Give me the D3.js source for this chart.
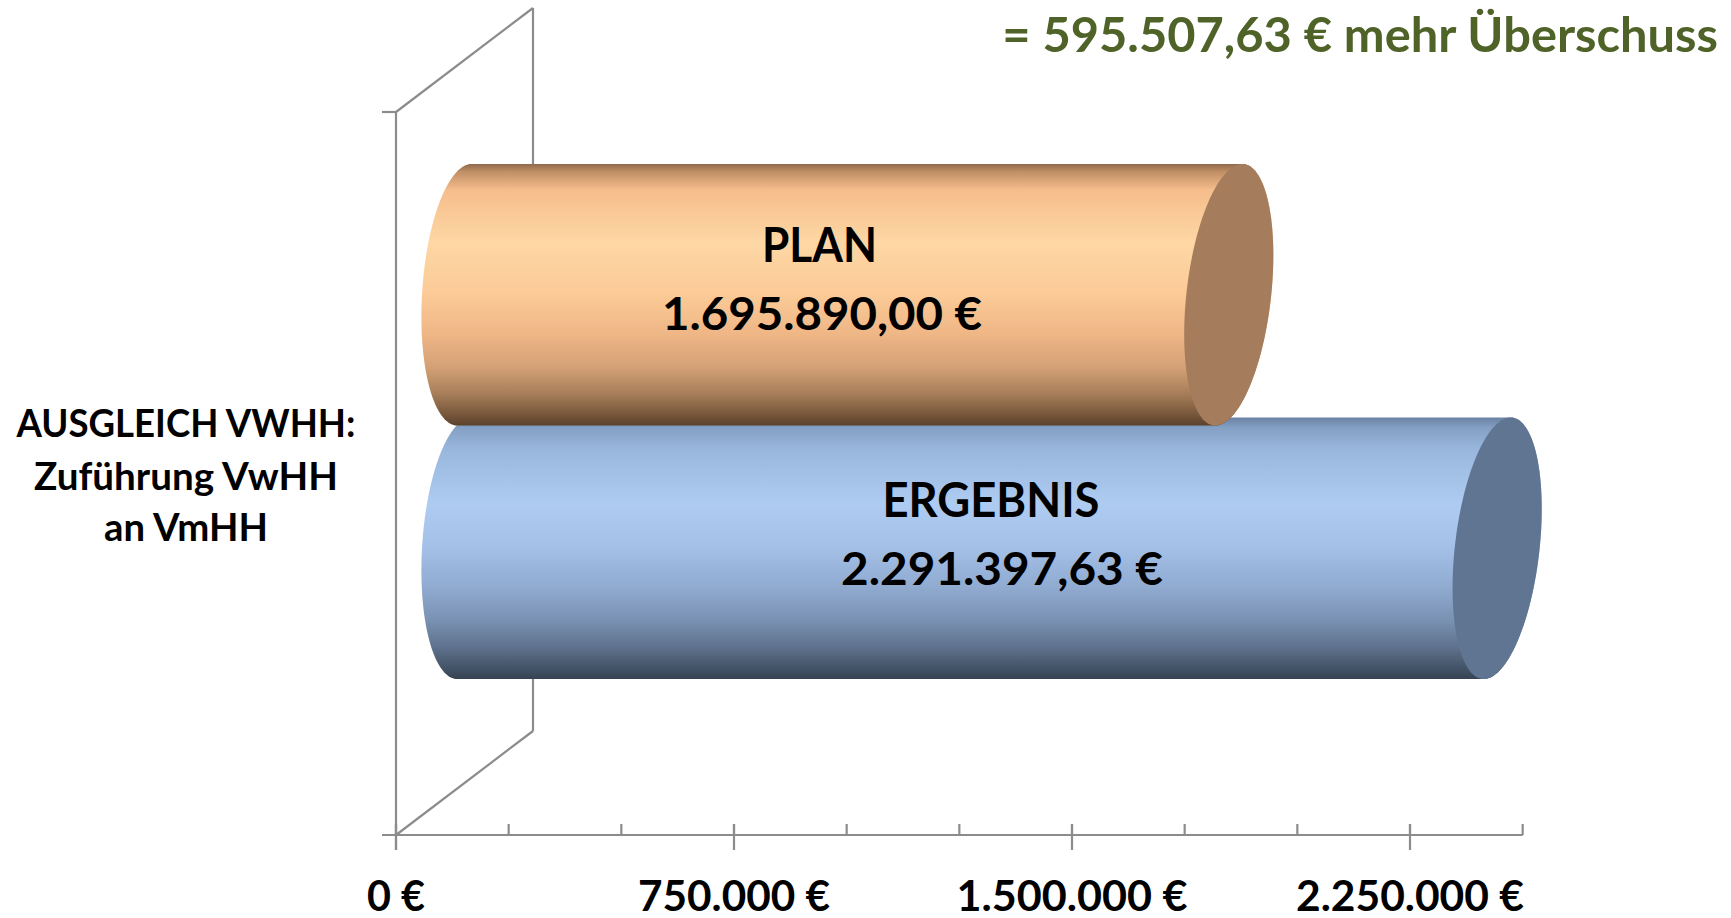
<!DOCTYPE html>
<html>
<head>
<meta charset="utf-8">
<script src="https://cdn.jsdelivr.net/npm/d3@7"></script>
<style>
  html, body { margin: 0; padding: 0; background: #ffffff; }
  svg { display: block; }
  text { font-family: Lato, "Open Sans", "DejaVu Sans", sans-serif; font-weight: 700; }
</style>
</head>
<body>
<svg id="chart" width="1731" height="918"></svg>
<script>
// ---------------- DATA ----------------
const titleText = "= 595.507,63 € mehr Überschuss";
const categoryLines = ["AUSGLEICH VWHH:", "Zuführung VwHH", "an VmHH"];
const seriesNames = ["PLAN", "ERGEBNIS"];
const seriesValues = [1695890.00, 2291397.63];
const seriesLabels = ["1.695.890,00 €", "2.291.397,63 €"];
const majorTickValues = [0, 750000, 1500000, 2250000];
const majorTickLabels = ["0 €", "750.000 €", "1.500.000 €", "2.250.000 €"];
const minorTickValues = [0, 250000, 500000, 750000, 1000000, 1250000, 1500000, 1750000, 2000000, 2250000, 2500000];
const axisMax = 2500000;

// ---------------- STYLE / LAYOUT ----------------
const seriesGradients = [
  [[0, "#8f6a4b"], [0.03, "#c08f66"], [0.1, "#f6bd8c"], [0.3, "#fdd7a4"], [0.5, "#fbca97"], [0.65, "#efb686"], [0.78, "#d3a076"], [0.88, "#a67d58"], [0.96, "#76553a"], [1, "#5c412b"]],
  [[0, "#6a82a3"], [0.04, "#84a0c4"], [0.12, "#99b6dc"], [0.33, "#aecbf2"], [0.5, "#a4c0e6"], [0.65, "#90aad0"], [0.78, "#7890b1"], [0.88, "#5e718c"], [0.96, "#435266"], [1, "#374353"]]
];
const capColors = ["#a57d5c", "#5f7592"];
const axisColor = "#8c8c8c";
const titleColor = "#4f6228";

const W = 1731, H = 918;
const frontX = 396, frontTop = 112, frontBottom = 835;
const depthDX = 137, depthDY = -104;
const rx = 42.5;              // ellipse half-width of cylinder ends
const kRight = 0.103, kLeft = 0.055;   // skew of the end ellipses

const svg = d3.select("#chart");
svg.append("rect").attr("width", W).attr("height", H).attr("fill", "#ffffff");

// scales
const x = d3.scaleLinear().domain([0, axisMax]).range([frontX, frontX + 3 * 338 * axisMax / 2250000]);
const y = d3.scaleBand().domain(seriesNames)
  .range([frontTop + depthDY / 2, frontBottom + depthDY / 2])
  .paddingInner(0).paddingOuter(0.426);
const ry = y.bandwidth() * 0.516;
const barDX = depthDX / 2;

// ---------------- WALLS / AXIS ----------------
const g = svg.append("g");
const line = (x1, y1, x2, y2) => g.append("line")
  .attr("x1", x1).attr("y1", y1).attr("x2", x2).attr("y2", y2)
  .attr("stroke", axisColor).attr("stroke-width", 2.2);

line(frontX, frontTop, frontX, frontBottom + 15);
line(frontX - 14, frontTop, frontX, frontTop);
line(frontX, frontTop, frontX + depthDX, frontTop + depthDY);
line(frontX + depthDX, frontTop + depthDY, frontX + depthDX, frontBottom + depthDY);
line(frontX, frontBottom, frontX + depthDX, frontBottom + depthDY);
line(frontX - 14, frontBottom, x(axisMax), frontBottom);

minorTickValues.forEach(v => line(x(v), frontBottom - 11, x(v), frontBottom));
majorTickValues.forEach(v => line(x(v), frontBottom - 11, x(v), frontBottom + 15));

// ---------------- GRADIENTS ----------------
const defs = svg.append("defs");
seriesNames.forEach((s, i) => {
  const lg = defs.append("linearGradient").attr("id", "grad" + i)
    .attr("x1", 0).attr("y1", 0).attr("x2", 0).attr("y2", 1);
  seriesGradients[i].forEach(([o, c]) => lg.append("stop").attr("offset", o).attr("stop-color", c));
});

// ---------------- CYLINDERS ----------------
function ellPt(cx, cy, t, k) {
  const sy = Math.sin(t);
  return [cx + rx * Math.cos(t) - k * ry * sy, cy + ry * sy];
}
const lineGen = d3.line();
const N = 60;

const order = [1, 0];  // ERGEBNIS behind, PLAN in front
order.forEach(i => {
  const cy = y(seriesNames[i]) + y.bandwidth() / 2;
  const cxL = x(0) + barDX;
  const cxR = x(seriesValues[i]) + barDX;
  const pts = [];
  for (let j = 0; j <= N; j++) {
    const t = -Math.PI / 2 + Math.PI * j / N;
    pts.push(ellPt(cxR, cy, t, kRight));
  }
  for (let j = 0; j <= N; j++) {
    const t = Math.PI / 2 + Math.PI * j / N;
    pts.push(ellPt(cxL, cy, t, kLeft));
  }
  svg.append("path").attr("d", lineGen(pts) + "Z").attr("fill", `url(#grad${i})`);
  const cap = [];
  for (let j = 0; j <= 2 * N; j++) cap.push(ellPt(cxR, cy, Math.PI * 2 * j / (2 * N), kRight));
  svg.append("path").attr("d", lineGen(cap) + "Z").attr("fill", capColors[i]);
});

// ---------------- TEXT ----------------
const CAPH = 0.7165;
function fitText(sel, px, py, targetW, targetCap, anchor) {
  sel.attr("x", 0).attr("y", 0).attr("font-size", 100).attr("text-anchor", anchor || "middle");
  const w = sel.node().getComputedTextLength();
  const fs = 100 * targetW / w;
  sel.attr("font-size", fs);
  const sy = targetCap / (CAPH * fs);
  sel.attr("transform", `translate(${px},${py}) scale(1,${sy})`);
  return fs;
}

// title
fitText(svg.append("text").text(titleText).attr("fill", titleColor), 1718, 52, 716, 34, "end");

// category label (left)
const catW = [339, 304, 164];
const catY = [437, 490, 541];
categoryLines.forEach((t, i) => {
  fitText(svg.append("text").text(t).attr("fill", "#000"), 186, catY[i], catW[i], 27, "middle");
});

// axis labels
const axisLabelW = [58, 192, 231, 228];
majorTickLabels.forEach((t, i) => {
  fitText(svg.append("text").text(t).attr("fill", "#000"), x(majorTickValues[i]), 911, axisLabelW[i], 30, "middle");
});

// bar labels
const nameW = [115, 217];
const valW = [320, 322];
const labelX = [[819.5, 822], [991, 1002]];
const labelDY = [[-33, 35], [-31, 37]];
seriesNames.forEach((s, i) => {
  const cy = y(s) + y.bandwidth() / 2;
  fitText(svg.append("text").text(s).attr("fill", "#000"), labelX[i][0], cy + labelDY[i][0], nameW[i], 34, "middle");
  fitText(svg.append("text").text(seriesLabels[i]).attr("fill", "#000"), labelX[i][1], cy + labelDY[i][1], valW[i], 33, "middle");
});
</script>
</body>
</html>
